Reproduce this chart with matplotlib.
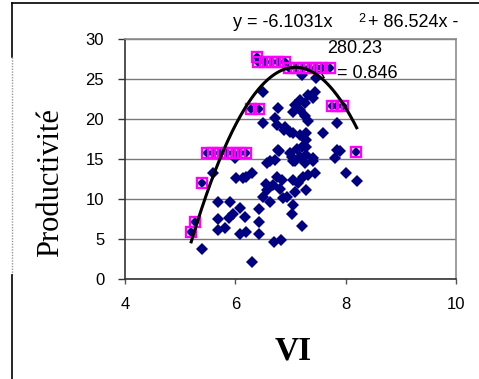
import matplotlib
matplotlib.use("Agg")
import matplotlib.pyplot as plt
from matplotlib.lines import Line2D
import numpy as np

# All observations (VI, productivity)
vi = [6.31, 5.40, 6.70, 6.82, 7.21, 6.08, 6.20, 6.43, 6.42, 5.69, 5.81, 5.69, 5.89,
      5.96, 6.08, 6.17, 5.69, 5.90, 6.01, 6.13, 6.31, 5.59, 6.00, 6.43, 6.51, 6.63,
      6.57, 6.69, 6.81, 6.75, 6.84, 6.57, 6.72, 6.79, 6.87, 6.93, 7.05, 7.02, 7.05,
      7.14, 7.08, 7.29, 7.23, 7.32, 7.44, 7.05, 7.17, 7.29, 7.41, 6.99, 7.11, 7.29,
      7.29, 7.05, 7.17, 7.29, 7.59, 7.80, 7.89, 8.00, 8.20, 6.88, 6.51, 6.78, 6.51,
      6.72, 6.75, 6.90, 6.99, 7.08, 7.17, 7.26, 7.05, 7.17, 7.26, 7.32, 7.32, 7.44,
      7.41, 7.20, 7.47, 7.84, 7.84, 6.78, 7.20, 7.02, 6.63, 7.08, 7.26, 7.41, 6.55,
      6.20]
prod = [2.1, 3.8, 4.7, 4.9, 6.6, 5.7, 5.9, 5.6, 7.1, 6.1, 6.4, 7.5, 7.6,
        8.2, 8.9, 7.8, 9.6, 9.6, 12.6, 12.6, 13.2, 13.2, 15.1, 8.8, 10.3, 9.7,
        11.1, 11.8, 11.3, 12.8, 12.4, 14.5, 14.9, 16.0, 10.1, 10.3, 9.3, 8.2, 12.4,
        12.0, 10.9, 11.1, 12.8, 13.0, 13.2, 14.7, 15.3, 15.5, 14.7, 15.7, 16.3, 16.5,
        17.4, 18.2, 18.0, 18.2, 18.2, 15.1, 16.0, 13.2, 12.3, 18.6, 23.4, 21.3, 19.5,
        20.1, 19.2, 19.0, 18.4, 21.7, 22.3, 22.0, 20.9, 21.1, 20.3, 19.7, 23.0, 23.4,
        22.6, 25.5, 25.1, 19.5, 16.1, 16.1, 16.5, 15.3, 14.7, 14.7, 14.5, 15.1, 11.9,
        12.8]

# Upper-envelope observations used for the quadratic fit
vi_env = [5.20, 5.27, 5.39, 5.48, 5.60, 5.72, 5.84, 5.96, 6.08, 6.20, 6.28, 6.42,
          6.39, 6.41, 6.54, 6.66, 6.78, 6.90, 6.98, 7.10, 7.22, 7.34, 7.46, 7.58,
          7.72, 7.75, 7.85, 7.95, 8.18]
prod_env = [5.9, 7.1, 12.0, 15.7, 15.7, 15.7, 15.7, 15.7, 15.7, 15.7, 21.2, 21.2,
            27.7, 27.1, 27.1, 27.1, 27.1, 27.1, 26.4, 26.4, 26.4, 26.4, 26.4, 26.4,
            26.4, 21.6, 21.6, 21.6, 15.9]

# Polynomial trend line (order 2)
coef = [-6.1031, 86.524, -280.23]
r2 = 0.846
fit_range = [5.2, 8.2]

x_ticks = [4, 6, 8, 10]
y_ticks = [0, 5, 10, 15, 20, 25, 30]

W, H = 479, 379
fig = plt.figure(figsize=(W / 100, H / 100), dpi=100)
fig.patch.set_facecolor("white")

def fx(px):
    return px / W

def fy(py):
    return 1 - py / H

ax = fig.add_axes([fx(125), fy(279.3), fx(456) - fx(125), fy(38.7) - fy(279.3)])
ax.set_xlim(4, 10)
ax.set_ylim(0, 30)

navy = "#000080"
ax.plot(vi, prod, linestyle="none", marker="D", ms=6.4, mew=0,
        color=navy, zorder=3, clip_on=False)
ax.plot(vi_env, prod_env, linestyle="none", marker="D", ms=4.8, mew=0,
        color=navy, zorder=4, clip_on=False)
ax.plot(vi_env, prod_env, linestyle="none", marker="s", ms=6.5, mew=1.7,
        mfc="none", mec="#FF00FF", zorder=5, clip_on=False)

xs = np.linspace(fit_range[0], fit_range[1], 200)
ax.plot(xs, np.polyval(coef, xs), color="black", lw=2.2, zorder=6)

ax.set_xticks(x_ticks)
ax.set_yticks(y_ticks)
ax.set_xticklabels([str(v) for v in x_ticks])
ax.set_yticklabels([str(v) for v in y_ticks])
for lab in ax.get_xticklabels() + ax.get_yticklabels():
    lab.set_fontfamily("Liberation Sans")
    lab.set_fontsize(12)
ax.tick_params(axis="y", direction="out", length=5, width=1, color="#333333", pad=10)
ax.tick_params(axis="x", direction="out", length=3.5, width=1, color="#555555", pad=9)

ax.grid(axis="y", color="#7a7a7a", lw=1, zorder=0)
ax.set_axisbelow(True)
for side in ["left", "bottom"]:
    ax.spines[side].set_color("#333333")
    ax.spines[side].set_linewidth(1.2)
for side in ["top", "right"]:
    ax.spines[side].set_color("#8c8c8c")
    ax.spines[side].set_linewidth(1.2)

# Axis titles
fig.text(fx(51), fy(183), "Productivité", rotation=90, ha="center", va="center",
         fontfamily="Liberation Serif", fontsize=22)
fig.text(fx(293), fy(351), "VI", ha="center", va="center",
         fontfamily="Liberation Serif", fontsize=24, fontweight="bold")

# Trend line equation and R²
eq_kw = dict(fontfamily="Liberation Sans", fontsize=13, ha="left", va="baseline",
             zorder=2)
fig.text(fx(233), fy(26.7), f"y = {coef[0]:.4f}x", **eq_kw)
fig.text(fx(358), fy(21.5), "2", fontfamily="Liberation Sans", fontsize=9,
         ha="left", va="baseline")
fig.text(fx(368), fy(26.7), f"+ {coef[1]:.3f}x -", **eq_kw)
fig.text(fx(327), fy(52.7), f"{-coef[2]:.2f}", **eq_kw)
ax.text(fx(313), fy(78), f"R² = {r2:.3f}", transform=fig.transFigure,
        clip_on=False, **eq_kw)

# Outer chart frame
fig.add_artist(Line2D([fx(12), 1], [fy(3), fy(3)], color="black", lw=1.2))
fig.add_artist(Line2D([fx(12), fx(12)], [fy(3), fy(57)], color="black", lw=1.2))
fig.add_artist(Line2D([fx(12), fx(12)], [fy(57), fy(275)], color="#9a9a9a",
                      lw=1.0, linestyle=(0, (1, 1))))
fig.add_artist(Line2D([fx(12), fx(12)], [fy(275), 0], color="black", lw=1.2))

fig.savefig("out.png", dpi=100, facecolor="white")
